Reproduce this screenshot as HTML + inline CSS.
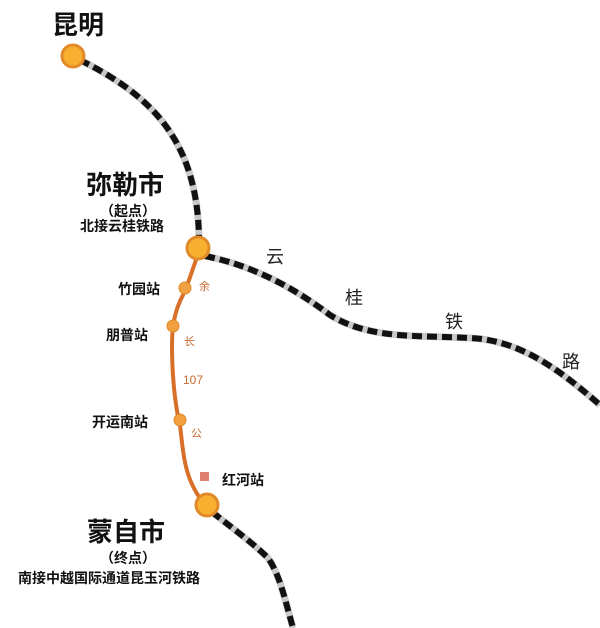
<!DOCTYPE html>
<html><head><meta charset="utf-8"><style>
body{margin:0;background:#fff;}
svg{display:block;}
text{font-family:"Liberation Sans","Noto Sans CJK SC",sans-serif;}
</style></head><body>
<svg width="600" height="628" viewBox="0 0 600 628">
<g fill="none" stroke-linecap="butt">
<path d="M80,60 C150,95 200,140 199,246" stroke="#c8c8c8" stroke-width="7"/>
<path d="M80,60 C150,95 200,140 199,246" stroke="#111" stroke-width="6" stroke-dasharray="10,5"/>
<path d="M205,256 C250,265 290,285 330,315 C370,340 420,335 470,338 C520,340 560,370 600,405" stroke="#c8c8c8" stroke-width="7"/>
<path d="M205,256 C250,265 290,285 330,315 C370,340 420,335 470,338 C520,340 560,370 600,405" stroke="#111" stroke-width="6" stroke-dasharray="10,5"/>
<path d="M212,512 C235,530 255,545 268,558 C280,575 285,600 293,628" stroke="#c8c8c8" stroke-width="7"/>
<path d="M212,512 C235,530 255,545 268,558 C280,575 285,600 293,628" stroke="#111" stroke-width="6" stroke-dasharray="10,5"/>
<path d="M199,252 C192,270 188,285 183,295 C175,310 172,325 172,345 C172,380 176,410 180,425 C184,460 185,480 205,505" stroke="#d9702a" stroke-width="4"/>
</g>
<g stroke="#e08a2a" stroke-width="3" fill="#f8b030">
<circle cx="73" cy="56" r="11"/>
<circle cx="198" cy="248" r="11"/>
<circle cx="207" cy="505" r="11"/>
</g>
<g fill="#f0a040" stroke="#e08a2a" stroke-width="1">
<circle cx="185" cy="288" r="6"/>
<circle cx="173" cy="326" r="6"/>
<circle cx="180" cy="420" r="6"/>
</g>
<g font-weight="bold" fill="#111">
<text x="52" y="34" font-size="26">昆明</text>
<text x="86" y="194" font-size="26">弥勒市</text>
<text x="100" y="216" font-size="14">（起点）</text>
<text x="80" y="231" font-size="14">北接云桂铁路</text>
<text x="118" y="294" font-size="14">竹园站</text>
<text x="106" y="340" font-size="14">朋普站</text>
<text x="92" y="427" font-size="14">开运南站</text>
<text x="222" y="485" font-size="14">红河站</text>
<text x="87" y="541" font-size="26">蒙自市</text>
<text x="100" y="563" font-size="14">（终点）</text>
<text x="18" y="583" font-size="14">南接中越国际通道昆玉河铁路</text>
</g>
<g fill="#222" font-size="18">
<text x="266" y="263">云</text>
<text x="345" y="304">桂</text>
<text x="445" y="328">铁</text>
<text x="562" y="368">路</text>
</g>
<g fill="#c86a30" font-size="11">
<text x="199" y="290">余</text>
<text x="184" y="345">长</text>
<text x="183" y="384" font-size="12">107</text>
<text x="191" y="437">公</text>
<rect x="200" y="472" width="9" height="9" fill="#e08070"/>
</g>
</svg>
</body></html>
